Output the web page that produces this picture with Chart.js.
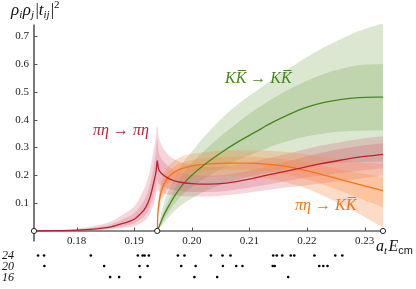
<!DOCTYPE html>
<html>
<head>
<meta charset="utf-8">
<script src="https://cdn.jsdelivr.net/npm/chart.js@4/dist/chart.umd.min.js"></script>
<style>
html,body{margin:0;padding:0;background:#fff;}
#c{display:block;}
</style>
</head>
<body>
<canvas id="c" width="416" height="289"></canvas>
<script>
// ---------- DATA ----------
// pi eta -> pi eta (red)
const redX      = [0.1726,0.176,0.18,0.183,0.186,0.188,0.190,0.191,0.192,0.1928,0.1934,0.1938,0.1940,0.1942,0.1946,0.195,0.196,0.197,0.198,0.200,0.203,0.206,0.210,0.214,0.218,0.222,0.226,0.230,0.2332];
const redMid    = [0.0005,0.001,0.003,0.007,0.015,0.027,0.042,0.06,0.085,0.125,0.175,0.215,0.253,0.225,0.21,0.202,0.188,0.18,0.175,0.17,0.168,0.172,0.186,0.205,0.222,0.24,0.255,0.268,0.275];
const redInLo   = [0,0.0005,0.002,0.004,0.009,0.017,0.027,0.04,0.058,0.09,0.13,0.16,0.185,0.172,0.163,0.158,0.15,0.146,0.143,0.14,0.14,0.144,0.156,0.17,0.185,0.198,0.208,0.218,0.225];
const redInHi   = [0.001,0.002,0.005,0.012,0.024,0.042,0.064,0.088,0.122,0.172,0.235,0.29,0.33,0.29,0.265,0.252,0.232,0.218,0.209,0.202,0.198,0.202,0.217,0.238,0.258,0.278,0.295,0.308,0.315];
const redOutLo  = [0,0,0.001,0.002,0.006,0.011,0.018,0.027,0.04,0.065,0.1,0.13,0.15,0.145,0.138,0.135,0.13,0.128,0.126,0.124,0.124,0.128,0.138,0.15,0.16,0.17,0.18,0.19,0.2];
const redOutHi  = [0.002,0.004,0.008,0.018,0.034,0.058,0.088,0.12,0.165,0.225,0.295,0.345,0.38,0.345,0.315,0.298,0.272,0.258,0.248,0.238,0.23,0.233,0.246,0.265,0.285,0.305,0.32,0.333,0.34];

// pi eta -> K Kbar (orange)
const orgX      = [0.194,0.1941,0.1943,0.1946,0.195,0.1955,0.196,0.197,0.198,0.200,0.203,0.206,0.210,0.214,0.218,0.222,0.226,0.230,0.2332];
const orgMid    = [0,0.06,0.1,0.135,0.16,0.18,0.195,0.212,0.222,0.234,0.241,0.244,0.244,0.238,0.226,0.206,0.184,0.162,0.145];
const orgInLo   = [0,0.05,0.085,0.118,0.14,0.16,0.175,0.19,0.2,0.212,0.218,0.22,0.22,0.212,0.196,0.172,0.143,0.11,0.085];
const orgInHi   = [0,0.07,0.115,0.152,0.178,0.2,0.215,0.232,0.243,0.255,0.263,0.267,0.267,0.262,0.252,0.236,0.22,0.205,0.195];
const orgOutLo  = [0,0.04,0.07,0.1,0.12,0.14,0.155,0.17,0.18,0.19,0.195,0.197,0.195,0.185,0.165,0.135,0.095,0.05,0.013];
const orgOutHi  = [0,0.08,0.13,0.17,0.198,0.22,0.235,0.253,0.265,0.277,0.285,0.29,0.29,0.287,0.28,0.268,0.256,0.245,0.24];

// K Kbar -> K Kbar (green)
const grnX      = [0.194,0.1945,0.195,0.196,0.197,0.198,0.199,0.200,0.202,0.205,0.208,0.211,0.214,0.217,0.220,0.223,0.226,0.229,0.2332];
const grnMid    = [0,0.025,0.05,0.09,0.125,0.155,0.18,0.2,0.235,0.28,0.32,0.355,0.39,0.42,0.445,0.462,0.473,0.479,0.481];
const grnInLo   = [0,0.018,0.036,0.068,0.098,0.122,0.142,0.158,0.187,0.222,0.255,0.28,0.305,0.325,0.34,0.35,0.357,0.36,0.362];
const grnInHi   = [0,0.032,0.065,0.11,0.152,0.19,0.22,0.245,0.285,0.34,0.39,0.435,0.475,0.51,0.54,0.565,0.583,0.595,0.6];
const grnOutLo  = [0,0.012,0.025,0.05,0.072,0.09,0.105,0.118,0.14,0.165,0.185,0.2,0.213,0.225,0.233,0.24,0.245,0.248,0.25];
const grnOutHi  = [0,0.045,0.09,0.145,0.19,0.23,0.26,0.285,0.335,0.4,0.455,0.5,0.545,0.585,0.625,0.66,0.69,0.718,0.745];

// thresholds / axis end markers (x values on the energy axis)
const markerX = [0.1726, 0.194, 0.2332];

// finite-volume energy levels per lattice size L
const levelSizes = ["24","20","16"];
const levels24 = [0.17331,0.17435,0.18247,0.19063,0.19147,0.19181,0.19254,0.19758,0.19873,0.20332,0.20533,0.20672,0.21414,0.21475,0.21570,0.21718,0.21779,0.22130,0.22491,0.22613];
const levels20 = [0.17105,0.17441,0.18478,0.19091,0.19233,0.19816,0.20067,0.20540,0.20771,0.20880,0.21405,0.21440,0.22213,0.22283,0.22357];
const levels16 = [0.16992,0.17097,0.18582,0.18738,0.19103,0.20045,0.20441,0.21674];

// tick values
const xTicks = [0.18,0.19,0.20,0.21,0.22,0.23];
const yTicks = [0.1,0.2,0.3,0.4,0.5,0.6,0.7];

// ---------- LAYOUT / STYLE ----------
const X_MIN = 0.1726, X_MAX = 0.2332;
const Y_MIN = -0.1667, Y_MAX = 0.747;
const ROW_Y = {"24": -0.0878, "20": -0.126, "16": -0.1656};
const SERIF = '"Liberation Serif","DejaVu Serif",serif';

const C = {
  red: 'rgb(190,32,52)', redBand: 'rgba(205,70,92,0.22)',
  org: 'rgb(246,116,20)', orgBand: 'rgba(250,140,70,0.30)',
  grn: 'rgb(72,136,26)', grnBand: 'rgba(110,160,70,0.25)'
};

const pts = (xs, ys) => xs.map((x, i) => ({x, y: ys[i]}));

function bandPair(xs, lo, hi, color, order) {
  return [
    {data: pts(xs, lo), borderWidth: 0, pointRadius: 0, fill: false, showLine: true, order, cubicInterpolationMode: 'monotone', borderColor: 'transparent'},
    {data: pts(xs, hi), borderWidth: 0, pointRadius: 0, fill: '-1', backgroundColor: color, showLine: true, order, cubicInterpolationMode: 'monotone', borderColor: 'transparent'}
  ];
}
function lineDs(xs, ys, color) {
  return {data: pts(xs, ys), borderColor: color, borderWidth: 1.3, pointRadius: 0, fill: false, showLine: true, order: 1, cubicInterpolationMode: 'monotone'};
}
function levelDs(vals, size) {
  return {data: vals.map(v => ({x: v, y: ROW_Y[size]})), showLine: false, pointRadius: 1.3, pointBackgroundColor: '#000', pointBorderWidth: 0, order: 0, clip: false};
}

const datasets = [
  ...bandPair(grnX, grnOutLo, grnOutHi, C.grnBand, 10),
  ...bandPair(grnX, grnInLo, grnInHi, C.grnBand, 9),
  ...bandPair(redX, redOutLo, redOutHi, C.redBand, 8),
  ...bandPair(redX, redInLo, redInHi, C.redBand, 7),
  ...bandPair(orgX, orgOutLo, orgOutHi, C.orgBand, 6),
  ...bandPair(orgX, orgInLo, orgInHi, C.orgBand, 5),
  lineDs(redX, redMid, C.red),
  lineDs(grnX, grnMid, C.grn),
  lineDs(orgX, orgMid, C.org),
  levelDs(levels24, "24"),
  levelDs(levels20, "20"),
  levelDs(levels16, "16"),
  {data: markerX.map(x => ({x, y: 0})), showLine: false, pointRadius: 2.6, pointBackgroundColor: '#fff', pointBorderColor: '#222', pointBorderWidth: 1, order: -1, clip: false}
];

function rich(ctx, x, y, parts) {
  for (const p of parts) {
    ctx.font = p.font;
    ctx.fillText(p.t, x, y + (p.dy || 0));
    x += ctx.measureText(p.t).width + (p.gap || 0);
  }
}

const decor = {
  id: 'decor',
  beforeDatasetsDraw(chart) {
    const {ctx, scales: {x, y}} = chart;
    ctx.save();
    ctx.strokeStyle = '#7a7a7a';
    ctx.lineWidth = 2;
    const x0 = x.getPixelForValue(X_MIN), y0 = y.getPixelForValue(0);
    ctx.beginPath();
    ctx.moveTo(x0, y.getPixelForValue(0.742));
    ctx.lineTo(x0, y.getPixelForValue(-0.038));
    ctx.stroke();
    ctx.strokeStyle = '#666';
    ctx.lineWidth = 1.6;
    ctx.beginPath();
    ctx.moveTo(x0, y0);
    ctx.lineTo(x.getPixelForValue(X_MAX), y0);
    ctx.stroke();
    ctx.lineWidth = 1;
    ctx.strokeStyle = '#555';
    ctx.beginPath();
    for (const t of yTicks) { const py = Math.round(y.getPixelForValue(t)) + 0.5; ctx.moveTo(x0, py); ctx.lineTo(x0 + 3.5, py); }
    for (const t of xTicks) { const px = Math.round(x.getPixelForValue(t)) + 0.5; ctx.moveTo(px, y0); ctx.lineTo(px, y0 - 3.5); }
    ctx.stroke();
    ctx.restore();
  },
  afterDraw(chart) {
    const {ctx, scales: {x, y}} = chart;
    ctx.save();
    ctx.textBaseline = 'alphabetic';
    ctx.fillStyle = '#111';
    const it = s => `italic ${s}px ${SERIF}`;
    const up = s => `${s}px ${SERIF}`;
    // y title
    rich(ctx, 11, 15, [
      {t: 'ρ', font: it(17)}, {t: 'i', font: it(11), dy: 3, gap: 0.5},
      {t: 'ρ', font: it(17)}, {t: 'j', font: it(11), dy: 3, gap: 1.5},
      {t: '|', font: up(17)}, {t: 't', font: it(17)}, {t: 'ij', font: it(11), dy: 3, gap: 1},
      {t: '|', font: up(17)}, {t: '2', font: up(11), dy: -7}
    ]);
    // x title
    rich(ctx, 376, 251, [
      {t: 'a', font: it(16)}, {t: 't', font: it(11), dy: 3, gap: 1.5},
      {t: 'E', font: it(16)}, {t: 'cm', font: `11px "Liberation Sans",sans-serif`, dy: 3}
    ]);
    // level row labels
    ctx.textBaseline = 'middle';
    for (const s of levelSizes) {
      ctx.font = it(12);
      ctx.fillText(s, 2, y.getPixelForValue(ROW_Y[s]) + 0.5);
    }
    // curve labels
    ctx.font = it(16);
    ctx.fillStyle = C.red;
    ctx.fillText('πη → πη', 93, 131);
    ctx.fillStyle = C.grn;
    ctx.fillText('KK̅ → KK̅', 225, 79);
    ctx.fillStyle = C.org;
    ctx.fillText('πη → KK̅', 295, 206);
    ctx.restore();
  }
};

new Chart(document.getElementById('c'), {
  type: 'line',
  data: {datasets},
  options: {
    responsive: false,
    animation: false,
    devicePixelRatio: 1,
    layout: {padding: {left: 0, right: 33, top: 23, bottom: 0}},
    plugins: {legend: {display: false}, tooltip: {enabled: false}},
    scales: {
      x: {
        type: 'linear', min: X_MIN, max: X_MAX, position: {y: 0},
        grid: {display: false, drawTicks: false}, border: {display: false},
        afterBuildTicks: s => { s.ticks = xTicks.map(v => ({value: v})); },
        ticks: {padding: 4, color: '#222', font: {family: SERIF, size: 11}, maxRotation: 0, autoSkip: false,
          callback: v => v.toFixed(2)}
      },
      y: {
        type: 'linear', min: Y_MIN, max: Y_MAX,
        grid: {display: false, drawTicks: false}, border: {display: false},
        afterBuildTicks: s => { s.ticks = yTicks.map(v => ({value: v})); },
        afterFit: s => { s.width = 34; },
        ticks: {padding: 5, color: '#222', font: {family: SERIF, size: 11},
          callback: v => v.toFixed(1)}
      }
    }
  },
  plugins: [decor]
});
</script>
</body>
</html>
